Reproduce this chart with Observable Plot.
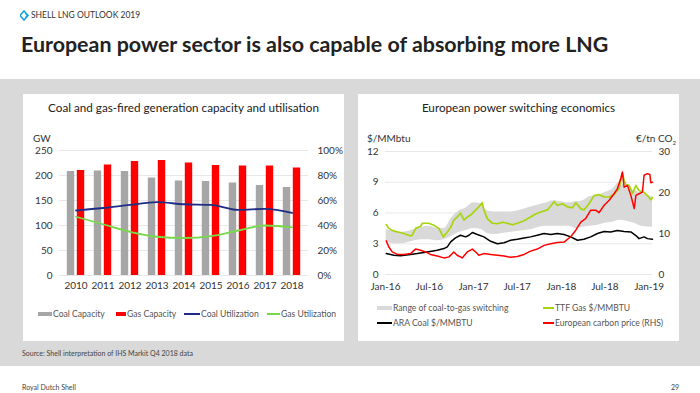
<!DOCTYPE html>
<html><head><meta charset="utf-8">
<script src="https://cdn.jsdelivr.net/npm/d3@7"></script>
<script src="https://cdn.jsdelivr.net/npm/@observablehq/plot@0.6"></script>
<style>
body{margin:0;width:700px;height:393px;position:relative;background:#fff;font-family:Lato,"Open Sans",sans-serif;overflow:hidden;color:#333}
.abs{position:absolute;white-space:nowrap}
#band{left:0;top:79px;width:700px;height:287px;background:#d9d9d9}
.panel{background:#fff;top:94px;height:247px;width:321px}
.ptitle{top:100px;width:321px;text-align:center;font-size:11.7px;color:#222}
.leg{font-size:8.6px;color:#555;line-height:12px}
</style></head><body>
<div class="abs" id="band"></div>
<div class="abs panel" style="left:23px"></div>
<div class="abs panel" style="left:358px"></div>
<svg class="abs" style="left:20px;top:10px" width="10" height="11" viewBox="0 0 10 11"><path d="M4 1 L8 5.5 L4 10 L0 5.5 Z" fill="none" stroke="#1aa3d9" stroke-width="1.6"/><path d="M5.5 3.5 L7.5 5.5 L5.5 7.5" fill="none" stroke="#1aa3d9" stroke-width="1.3"/></svg>
<div class="abs" style="left:31px;top:10px;font-size:8.5px;color:#333">SHELL LNG OUTLOOK 2019</div>
<div class="abs" style="left:21px;top:31px;font-size:21.4px;font-weight:bold;color:#222">European power sector is also capable of absorbing more LNG</div>
<div class="abs ptitle" style="left:23px">Coal and gas-fired generation capacity and utilisation</div>
<div class="abs ptitle" style="left:358px">European power switching economics</div>
<div class="abs" style="left:33px;top:132px;font-size:10px">GW</div>
<div class="abs" style="left:367px;top:132px;font-size:10px">$/MMbtu</div>
<div class="abs" style="left:636px;top:132px;font-size:10px">€/tn CO<sub style="font-size:6px">2</sub></div>
<div id="left" class="abs" style="left:23px;top:130px"></div>
<div id="right" class="abs" style="left:358px;top:130px"></div>
<div id="legL"></div><div id="legR"></div>
<div class="abs" style="left:22px;top:349px;font-size:7px;color:#444">Source: Shell interpretation of IHS Markit Q4 2018 data</div>
<div class="abs" style="left:22px;top:383px;font-size:7px;color:#444">Royal Dutch Shell</div>
<div class="abs" style="left:671px;top:383px;font-size:7px;color:#444">29</div>
<script>
// ---- Left chart data ----
const years = [2010, 2011, 2012, 2013, 2014, 2015, 2016, 2017, 2018];
const coalCapacity = [208, 209, 208, 195, 189, 188, 185, 180, 176];
const gasCapacity = [210, 221, 228, 230, 225, 220, 219, 219, 215];
const coalUtilization = [52, 54, 56.5, 58.7, 57, 56.5, 52.5, 53.3, 50];
const gasUtilization = [47, 41, 35, 31, 30, 31.5, 36, 40, 38.5];
const gwTicks = [0, 50, 100, 150, 200, 250];
const pctTicks = [0, 20, 40, 60, 80, 100];
const leftSeries = ["Coal Capacity", "Gas Capacity", "Coal Utilization", "Gas Utilization"];

// ---- Right chart data ----
const ttfDates = ["2016-01-04","2016-01-15","2016-01-29","2016-02-19","2016-03-03","2016-03-17","2016-04-14","2016-04-21","2016-05-05","2016-05-26","2016-06-02","2016-06-29","2016-07-20","2016-08-10","2016-08-28","2016-09-14","2016-09-28","2016-10-11","2016-10-25","2016-11-08","2016-11-22","2016-12-06","2016-12-20","2017-01-10","2017-01-23","2017-02-06","2017-02-13","2017-02-27","2017-03-20","2017-04-10","2017-05-01","2017-05-21","2017-06-11","2017-07-02","2017-07-30","2017-08-26","2017-09-16","2017-10-07","2017-11-04","2017-12-02","2017-12-15","2018-01-05","2018-01-26","2018-02-16","2018-03-02","2018-03-23","2018-04-05","2018-04-26","2018-05-17","2018-06-07","2018-06-28","2018-07-19","2018-08-08","2018-08-29","2018-09-12","2018-09-19","2018-09-26","2018-10-10","2018-10-24","2018-11-07","2018-11-20","2018-12-11","2018-12-25","2019-01-08","2019-01-15"];
const ttfGas = [4.87,4.5,4.3,4.15,4.1,4.0,3.75,3.85,4.5,4.7,5.0,5.0,4.8,4.5,3.67,4.15,4.6,5.3,5.6,6.0,5.3,5.6,5.8,6.3,6.6,7.0,6.3,5.45,5.0,4.95,5.1,5.0,4.85,5.0,5.25,5.6,5.9,6.1,6.3,7.1,6.75,6.9,6.6,6.5,7.0,6.4,6.3,6.9,7.7,7.8,7.56,7.56,7.8,8.4,9.9,9.2,8.76,8.7,7.9,8.7,8.2,8.0,7.7,7.3,7.5];

const carbonDates = ["2016-01-04","2016-01-15","2016-01-29","2016-02-19","2016-03-17","2016-04-14","2016-05-05","2016-05-26","2016-06-15","2016-07-06","2016-08-03","2016-08-31","2016-09-21","2016-10-11","2016-10-25","2016-11-15","2016-12-06","2016-12-27","2017-01-10","2017-01-23","2017-02-13","2017-03-13","2017-04-10","2017-05-08","2017-06-04","2017-07-02","2017-07-30","2017-08-26","2017-09-23","2017-10-21","2017-11-18","2017-12-15","2018-01-12","2018-02-09","2018-03-02","2018-03-23","2018-04-12","2018-05-03","2018-05-24","2018-06-07","2018-06-28","2018-07-19","2018-08-08","2018-08-22","2018-09-05","2018-09-12","2018-09-19","2018-10-03","2018-10-17","2018-10-31","2018-11-07","2018-11-20","2018-12-04","2018-12-11","2018-12-25","2019-01-04","2019-01-08","2019-01-15"];
const carbonPrice = [8.2,6.7,5.5,4.9,4.9,5.1,6.2,5.9,5.5,4.9,4.5,4.05,4.3,5.5,4.7,4.05,5.5,6.2,5.5,4.7,5.1,4.9,4.7,4.5,4.2,4.4,4.9,5.7,6.2,7.1,7.5,7.8,7.9,9.2,10.8,12.8,13.6,15.7,15.7,15.1,16.9,18.1,19.7,20.9,23.4,25.0,21.3,21.7,19.3,16.1,19.3,19.7,20.1,24.2,24.6,24.4,22.4,22.5];

const coalDates = ["2016-01-04","2016-02-05","2016-03-03","2016-04-14","2016-05-12","2016-06-22","2016-08-03","2016-08-31","2016-09-14","2016-09-28","2016-10-18","2016-11-08","2016-11-29","2016-12-13","2016-12-27","2017-01-17","2017-02-13","2017-03-13","2017-04-10","2017-05-08","2017-06-04","2017-07-02","2017-07-30","2017-08-26","2017-09-23","2017-10-21","2017-11-18","2017-12-15","2018-01-12","2018-02-09","2018-03-09","2018-04-05","2018-05-03","2018-05-31","2018-06-28","2018-07-25","2018-08-22","2018-09-19","2018-10-17","2018-11-07","2018-11-20","2018-12-11","2018-12-25","2019-01-15"];
const araCoal = [2.04,1.88,1.82,1.95,2.04,2.2,2.37,2.53,2.7,3.18,3.57,3.83,3.67,3.83,4.1,3.9,3.67,3.24,3.0,3.1,3.34,3.44,3.57,3.67,3.83,4.0,3.9,4.0,3.9,3.67,3.34,3.44,3.67,4.0,4.2,4.15,4.3,4.2,4.15,3.8,3.5,3.67,3.5,3.44];

const rangeDates = ["2016-01-04","2016-02-01","2016-03-01","2016-04-01","2016-05-01","2016-06-01","2016-07-01","2016-08-01","2016-09-01","2016-10-01","2016-11-01","2016-12-01","2017-01-01","2017-02-01","2017-03-01","2017-04-01","2017-05-01","2017-06-01","2017-07-01","2017-08-01","2017-09-01","2017-10-01","2017-11-01","2017-12-01","2018-01-01","2018-02-01","2018-03-01","2018-04-01","2018-05-01","2018-06-01","2018-07-01","2018-08-01","2018-09-01","2018-10-01","2018-11-01","2018-12-01","2019-01-15"];
const rangeLow = [3.3,3.0,3.0,3.1,3.3,3.4,3.4,3.3,3.4,3.7,4.1,4.3,4.5,4.4,4.0,3.9,4.0,4.1,4.2,4.3,4.4,4.6,4.7,4.7,4.7,4.7,4.5,4.6,4.7,4.8,5.0,5.1,5.3,5.2,5.0,4.7,4.6];
const rangeHigh = [4.4,4.2,4.1,4.2,4.4,4.6,4.7,4.5,4.5,5.5,6.2,6.5,7.0,6.9,6.2,6.1,6.1,6.1,6.2,6.4,6.6,6.8,7.0,7.2,7.1,7.0,7.1,7.2,7.6,7.7,8.0,8.3,9.0,8.4,8.2,7.9,7.6];

const usdTicks = [0, 3, 6, 9, 12];
const eurTicks = [0, 10, 20, 30];
const dateTicks = ["2016-01-01","2016-07-01","2017-01-01","2017-07-01","2018-01-01","2018-07-01","2019-01-01"];
const rightSeries = ["Range of coal-to-gas switching", "TTF Gas $/MMBTU", "ARA Coal $/MMBTU", "European carbon price (RHS)"];

// colours
const cGrey = "#a6a6a6", cRed = "#ff0000", cNavy = "#1f2c86", cGreen = "#77d94a";
const cBand = "#d9d9d9", cTTF = "#a6d50e", cCoal = "#000000", cCarbon = "#ff0000";

const font = {fontFamily: "Lato, 'Open Sans', sans-serif", fontSize: "10px", color: "#333", background: "transparent", overflow: "visible"};

// ---- Left plot ----
const capRows = years.map((y, i) => ({year: y, coal: coalCapacity[i], gas: gasCapacity[i], cu: coalUtilization[i], gu: gasUtilization[i]}));
const pctScale = 250 / 100;
const left = Plot.plot({
  width: 321, height: 165, marginLeft: 36, marginRight: 36, marginTop: 20, marginBottom: 20,
  style: font,
  x: {type: "band", domain: years, padding: 0, axis: null},
  y: {domain: [0, 250], axis: null},
  marks: [
    Plot.gridY(gwTicks, {stroke: "#e8e8e8", strokeOpacity: 1}),
    Plot.barY(capRows, {x: "year", y: "coal", fill: cGrey, insetLeft: 4.8, insetRight: 14.8}),
    Plot.barY(capRows, {x: "year", y: "gas", fill: cRed, insetLeft: 14.8, insetRight: 4.8}),
    Plot.lineY(capRows, {x: "year", y: d => d.cu * pctScale, stroke: cNavy, strokeWidth: 1.8, curve: "monotone-x"}),
    Plot.lineY(capRows, {x: "year", y: d => d.gu * pctScale, stroke: cGreen, strokeWidth: 1.8, curve: "monotone-x"}),
    Plot.axisX({tickSize: 0, tickPadding: 6, label: null, tickFormat: d => String(d)}),
    Plot.axisY(gwTicks, {anchor: "left", tickSize: 0, tickPadding: 7, label: null}),
    Plot.axisY(pctTicks.map(p => p * pctScale), {anchor: "right", tickSize: 0, tickPadding: 9, label: null, tickFormat: d => Math.round(d / pctScale) + "%"})
  ]
});
document.getElementById("left").appendChild(left);

// ---- Right plot ----
const P = s => new Date(s);
const ttfRows = ttfDates.map((d, i) => ({date: P(d), v: ttfGas[i]}));
const carbonRows = carbonDates.map((d, i) => ({date: P(d), v: carbonPrice[i]}));
const coalRows = coalDates.map((d, i) => ({date: P(d), v: araCoal[i]}));
const rangeRows = rangeDates.map((d, i) => ({date: P(d), lo: rangeLow[i], hi: rangeHigh[i]}));
const eurScale = 12 / 30;
const fmt = d3.utcFormat("%b-%y");
const right = Plot.plot({
  width: 321, height: 164, marginLeft: 27, marginRight: 27, marginTop: 21, marginBottom: 20,
  style: font,
  x: {type: "utc", domain: [P("2016-01-01"), P("2019-01-15")], axis: null},
  y: {domain: [0, 12], axis: null},
  marks: [
    Plot.gridY(usdTicks, {stroke: "#e8e8e8", strokeOpacity: 1}),
    Plot.areaY(rangeRows, {x: "date", y1: "lo", y2: "hi", fill: cBand, curve: "monotone-x"}),
    Plot.lineY(coalRows, {x: "date", y: "v", stroke: cCoal, strokeWidth: 1.5}),
    Plot.lineY(ttfRows, {x: "date", y: "v", stroke: cTTF, strokeWidth: 1.7}),
    Plot.lineY(carbonRows, {x: "date", y: d => d.v * eurScale, stroke: cCarbon, strokeWidth: 1.5}),
    Plot.axisX(dateTicks.map(P), {tickSize: 0, tickPadding: 8, label: null, tickFormat: fmt}),
    Plot.axisY(usdTicks, {anchor: "left", tickSize: 0, tickPadding: 7, label: null}),
    Plot.axisY(eurTicks.map(v => v * eurScale), {anchor: "right", tickSize: 0, tickPadding: 6, label: null, tickFormat: d => Math.round(d / eurScale)})
  ]
});
document.getElementById("right").appendChild(right);

// ---- Legends ----
function legendItem(parent, x, y, label, color, kind, w) {
  const sw = document.createElement("div");
  sw.className = "abs";
  const h = kind === "rect" ? 4 : 1.6;
  sw.style.cssText = `left:${x}px;top:${y - h / 2}px;width:${w}px;height:${h}px;background:${color}`;
  parent.appendChild(sw);
  const t = document.createElement("div");
  t.className = "abs leg";
  t.style.cssText = `left:${x + w + 1}px;top:${y - 6}px`;
  t.textContent = label;
  parent.appendChild(t);
}
const legL = document.getElementById("legL");
legendItem(legL, 38, 314, leftSeries[0], cGrey, "rect", 14);
legendItem(legL, 116, 314, leftSeries[1], cRed, "rect", 10);
legendItem(legL, 184, 314, leftSeries[2], cNavy, "line", 16);
legendItem(legL, 267, 314, leftSeries[3], cGreen, "line", 13);
const legR = document.getElementById("legR");
legendItem(legR, 377, 308, rightSeries[0], cBand, "rect", 15);
legendItem(legR, 543, 308, rightSeries[1], cTTF, "line", 11);
legendItem(legR, 377, 323, rightSeries[2], cCoal, "line", 15);
legendItem(legR, 543, 323, rightSeries[3], cCarbon, "line", 11);
</script>
</body></html>
